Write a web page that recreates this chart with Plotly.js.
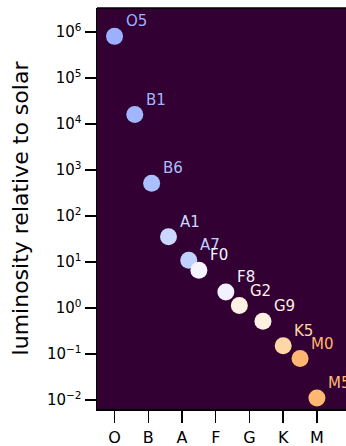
<!DOCTYPE html>
<html>
<head>
<meta charset="utf-8">
<script src="https://cdn.plot.ly/plotly-3.0.1.min.js"></script>
<style>
html,body{margin:0;padding:0;overflow:hidden;background:#fff;}
#chart{width:400px;height:446px;}
</style>
</head>
<body>
<div id="chart"></div>
<script>
// spectral class tick labels
const classTicks = ['O', 'B', 'A', 'F', 'G', 'K', 'M'];
const classPos = [0, 1, 2, 3, 4, 5, 6];
// luminosity tick labels
const lumTickVals = [0.01, 0.1, 1, 10, 100, 1000, 10000, 100000, 1000000];
const lumTickText = ['10<sup>\u22122</sup>', '10<sup>\u22121</sup>', '10<sup>0</sup>', '10<sup>1</sup>',
                     '10<sup>2</sup>', '10<sup>3</sup>', '10<sup>4</sup>', '10<sup>5</sup>', '10<sup>6</sup>'];
// stars
const starTypes = ['O5', 'B1', 'B6', 'A1', 'A7', 'F0', 'F8', 'G2', 'G9', 'K5', 'M0', 'M5'];
const starX = [0.0, 0.6, 1.1, 1.6, 2.2, 2.5, 3.3, 3.7, 4.4, 5.0, 5.5, 6.0];
const luminosity = [800000, 16000, 510, 35, 10.8, 6.6, 2.2, 1.12, 0.51, 0.15, 0.079, 0.011];
const starColors = ['#9bb0ff', '#a2b6ff', '#aabfff', '#cad8ff', '#bfd0ff', '#f6f4ff', '#f3f1ff',
                    '#fff2e3', '#fff0e0', '#ffd6a6', '#ffb672', '#ffb872'];

const trace = {
  x: starX,
  y: luminosity,
  mode: 'markers',
  type: 'scatter',
  marker: {size: 17, color: starColors, line: {width: 0}},
  hoverinfo: 'skip',
  cliponaxis: false
};

const labels = starTypes.map((t, i) => ({
  x: starX[i],
  y: Math.log10(luminosity[i]),
  xref: 'x', yref: 'y',
  text: t,
  showarrow: false,
  xanchor: 'left', yanchor: 'bottom',
  xshift: 9, yshift: 4,
  font: {family: 'DejaVu Sans', size: 15, color: starColors[i]}
}));

const layout = {
  width: 400,
  height: 446,
  margin: {l: 97, r: 20, t: 8, b: 37},
  paper_bgcolor: '#ffffff',
  plot_bgcolor: '#330033',
  showlegend: false,
  font: {family: 'DejaVu Sans', color: '#000'},
  xaxis: {
    range: [-0.52, 7.87],
    tickvals: classPos,
    ticktext: classTicks,
    showgrid: false,
    zeroline: false,
    showline: true,
    linecolor: '#000',
    linewidth: 1.5,
    ticks: 'outside',
    ticklen: 12,
    tickwidth: 1.5,
    tickcolor: '#000',
    ticklabelstandoff: 1,
    tickfont: {family: 'DejaVu Sans', size: 16, color: '#000'}
  },
  yaxis: {
    type: 'log',
    range: [-2.2, 6.52],
    tickvals: lumTickVals,
    ticktext: lumTickText,
    showgrid: false,
    zeroline: false,
    showline: true,
    linecolor: '#000',
    linewidth: 1.5,
    ticks: 'outside',
    ticklen: 11,
    tickwidth: 1.5,
    tickcolor: '#000',
    tickfont: {family: 'DejaVu Sans', size: 15, color: '#000'},
    title: {text: 'luminosity relative to solar', font: {family: 'DejaVu Sans', size: 22, color: '#000'}, standoff: 12}
  },
  annotations: labels,
  shapes: [{type: 'line', xref: 'paper', yref: 'paper', x0: 0, x1: 1, y0: 1, y1: 1,
            line: {color: '#000', width: 1.5}}]
};

Plotly.newPlot('chart', [trace], layout, {staticPlot: true, displayModeBar: false});
</script>
</body>
</html>
